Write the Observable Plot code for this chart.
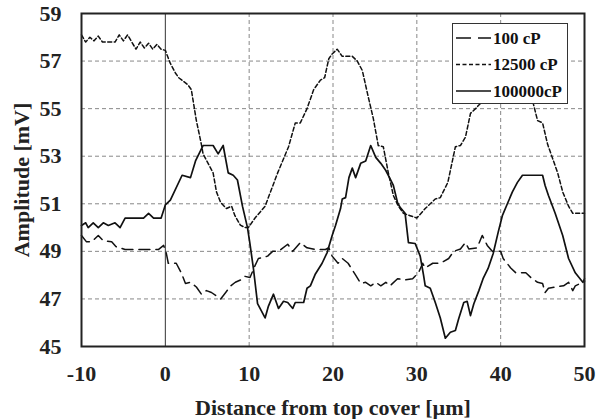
<!DOCTYPE html>
<html>
<head>
<meta charset="utf-8">
<script src="https://cdn.jsdelivr.net/npm/d3@7"></script>
<script src="https://cdn.jsdelivr.net/npm/@observablehq/plot@0.6"></script>
<style>
  html, body { margin: 0; padding: 0; background: white; }
  #wrap { position: relative; width: 606px; height: 419px; }
  #legend { position: absolute; left: 452px; top: 23px; width: 114px; height: 79px; border: 1px solid #333; background: white; }
</style>
</head>
<body>
<div id="wrap"></div>
<script>
const seriesNames = ["100 cP", "12500 cP", "100000cP"];

const x100 = [-10,-9.4,-8.8,-8,-7.4,-6.4,-5.9,-4.8,-0.8,-0.2,0.1,0.35,1.3,1.9,2.4,3,3.7,4.3,4.9,5.5,6.6,7.2,7.8,8.35,9,9.5,10.1,10.7,11.1,12.2,12.8,13.5,14.6,15.2,16.1,16.9,17.9,19.1,19.5,19.9,20.6,21.1,21.8,22.7,23.3,23.9,24.5,25.1,25.7,26.3,26.8,27.7,28.6,29.5,30.2,30.7,31,31.9,32.8,33.8,34.4,35.2,35.8,36.2,37.2,37.8,38.4,39,40,40.3,41.2,41.8,43,43.6,44.4,45,45.3,45.7,46.5,47.5,48.1,48.6,48.9,49.8,50];
const y100 = [49.67,49.4,49.4,49.67,49.45,49.4,49.2,49.08,49.08,49.25,48.95,48.5,48.5,48.1,47.65,47.7,47.5,47.2,47.35,47.27,47.0,47.27,47.55,47.7,47.8,47.95,47.9,48.4,48.7,48.8,49.0,49.0,49.3,49.0,49.37,49.15,49.08,49.08,49.15,48.8,48.5,48.7,48.5,48.0,47.65,47.7,47.55,47.7,47.55,47.7,47.55,47.85,47.8,47.85,48.1,48.5,48.3,48.5,48.5,48.7,49.0,49.1,49.37,49.1,49.15,49.67,49.25,49.0,49.0,48.7,48.3,48.1,48.1,47.9,47.7,47.65,47.27,47.45,47.5,47.55,47.7,47.35,47.55,47.7,47.85];

const x12500 = [-10,-9.5,-9,-8.5,-8,-7.5,-7,-6,-5.5,-5,-4.5,-4,-3.5,-3,-2.5,-2,-1.5,-1,-0.5,0,0.6,1.2,1.6,2.7,3.1,3.7,4.3,4.5,5.7,6.1,6.6,7.3,7.9,8.3,8.95,9.5,9.9,10.7,11.9,13.4,14.7,15.5,16.1,16.9,17.7,18.5,19,19.5,19.9,20.5,21.1,22.3,22.9,23.5,24.2,24.8,25.4,26,26.6,27.2,27.8,28.4,29.2,30,31,31.6,32.2,32.8,33.7,34.6,35.2,35.8,36.4,37,37.8,39,40,41,42,43,43.9,44.4,45,45.6,46.2,46.8,47.4,48.1,48.6,49.8,50];
const y12500 = [58.1,57.8,58.0,57.85,58.05,57.8,57.8,57.8,58.1,57.85,58.1,57.8,57.5,57.8,57.55,57.75,57.5,57.7,57.5,57.45,56.9,56.5,56.3,56.0,55.8,54.5,53.5,53.1,52.3,51.5,51.05,50.8,50.9,50.5,50.1,50.0,50.0,50.4,50.9,52.3,53.4,54.4,54.4,55.0,55.8,56.2,56.3,57.1,57.3,57.5,57.2,57.2,57.0,56.6,55.5,54.6,53.45,53.4,52.3,51.35,50.9,50.6,50.5,50.4,50.8,51.0,51.2,51.26,51.9,53.4,53.45,53.8,54.8,55.0,55.3,55.7,56.0,56.1,56.0,55.6,55.2,54.5,54.4,53.5,52.9,52.3,51.5,50.9,50.6,50.6,50.6];

const x100000 = [-10,-9.5,-9.2,-8.6,-8,-7.4,-6.8,-6,-5.4,-4.8,-2.6,-2,-1.4,-0.5,0,0.6,2,3,3.6,4.5,5.7,6.3,6.9,7.5,8.1,8.6,9.2,9.8,10.1,10.5,11,11.3,11.9,12.3,12.9,13.5,14.1,14.6,15.2,15.5,16.5,16.9,17.3,17.9,18.7,19.3,19.9,20.3,20.9,21.1,21.5,21.9,22.3,22.7,23.3,23.9,24.5,25.1,25.7,26.3,26.8,27.2,27.7,28,28.6,29,29.8,30.4,30.8,31,31.6,32.2,32.8,33.4,34,34.6,35,35.6,36,36.4,36.8,37.4,37.9,38.5,39.1,39.7,40.2,40.8,41.4,42,42.6,45,45.3,45.7,46.5,47.4,48.1,48.9,49.8,50];
const y100000 = [50.09,50.2,50.0,50.2,50.0,50.2,50.09,50.2,50.0,50.4,50.4,50.6,50.4,50.4,50.95,51.15,52.2,52.1,52.8,53.45,53.45,53.1,53.45,52.3,52.2,52.0,50.9,50.0,49.3,48.3,46.8,46.6,46.2,46.7,47.2,46.6,46.9,46.85,46.6,46.85,46.85,47.45,47.55,48.05,48.5,48.95,49.67,50.09,50.8,51.2,51.26,52.1,52.5,52.1,52.7,52.8,53.45,52.95,52.7,52.4,52.06,51.77,51.05,50.85,50.6,49.37,49.33,48.8,48.0,47.55,47.45,46.85,46.2,45.35,45.6,45.67,46.18,46.85,46.9,46.3,46.8,47.35,47.85,48.28,48.9,49.8,50.5,51.0,51.5,51.9,52.2,52.2,51.77,51.35,50.6,49.67,48.7,48.1,47.7,47.75];

const xTicks = [-10, 0, 10, 20, 30, 40, 50];
const yTicks = [45, 47, 49, 51, 53, 55, 57, 59];
const xGridVals = [10, 20, 30, 40];
const yGridVals = [47, 49, 51, 53, 55, 57];

const toRows = (xs, ys) => xs.map((x, i) => ({x, y: ys[i]}));
const rows100 = toRows(x100, y100);
const rows12500 = toRows(x12500, y12500);
const rows100000 = toRows(x100000, y100000);

const dashes = {"100 cP": "11,6", "12500 cP": "4,2.5", "100000cP": null};
const legendDashes = {"100 cP": "15,7", "12500 cP": "4,2.5", "100000cP": null};

const chart = Plot.plot({
  width: 606,
  height: 419,
  marginLeft: 81,
  marginRight: 22,
  marginTop: 13,
  marginBottom: 73,
  style: {fontFamily: "'Liberation Serif', 'Times New Roman', serif", fontWeight: "bold", fontSize: "22px", color: "#222", background: "white"},
  x: {domain: [-10, 50]},
  y: {domain: [45, 59]},
  marks: [
    Plot.gridX(xGridVals, {stroke: "#888", strokeOpacity: 1, strokeDasharray: "4,3"}),
    Plot.gridY(yGridVals, {stroke: "#888", strokeOpacity: 1, strokeDasharray: "4,3"}),
    Plot.ruleX([0], {stroke: "#333", strokeWidth: 1}),
    Plot.line(rows100, {x: "x", y: "y", stroke: "#111", strokeWidth: 1.5, strokeDasharray: dashes["100 cP"]}),
    Plot.line(rows12500, {x: "x", y: "y", stroke: "#111", strokeWidth: 1.5, strokeDasharray: dashes["12500 cP"]}),
    Plot.line(rows100000, {x: "x", y: "y", stroke: "#111", strokeWidth: 1.7}),
    Plot.frame({stroke: "#222", strokeWidth: 2}),
    Plot.axisX(xTicks, {tickSize: 0, tickPadding: 19, tickFormat: d => String(d), label: "Distance from top cover [µm]", labelAnchor: "center", labelArrow: "none", labelOffset: 68}),
    Plot.axisY(yTicks, {tickSize: 0, tickPadding: 20, tickFormat: d => String(d), label: "Amplitude [mV]", labelAnchor: "center", labelArrow: "none", labelOffset: 68})
  ]
});
const wrap = document.getElementById("wrap");
wrap.appendChild(chart);

// legend overlay
const legend = document.createElement("div");
legend.id = "legend";
const rowsY = [14, 40.5, 67];
let svg = `<svg width="114" height="79" style="font-family:'Liberation Serif','Times New Roman',serif;font-weight:bold;font-size:17px">`;
seriesNames.forEach((name, i) => {
  const d = legendDashes[name];
  svg += `<line x1="3" x2="38" y1="${rowsY[i]}" y2="${rowsY[i]}" stroke="#111" stroke-width="1.5" ${d ? `stroke-dasharray="${d}"` : ""}/>`;
  svg += `<text x="40" y="${rowsY[i]}" dy="0.35em" fill="#111">${name}</text>`;
});
svg += `</svg>`;
legend.innerHTML = svg;
wrap.appendChild(legend);
</script>
</body>
</html>
